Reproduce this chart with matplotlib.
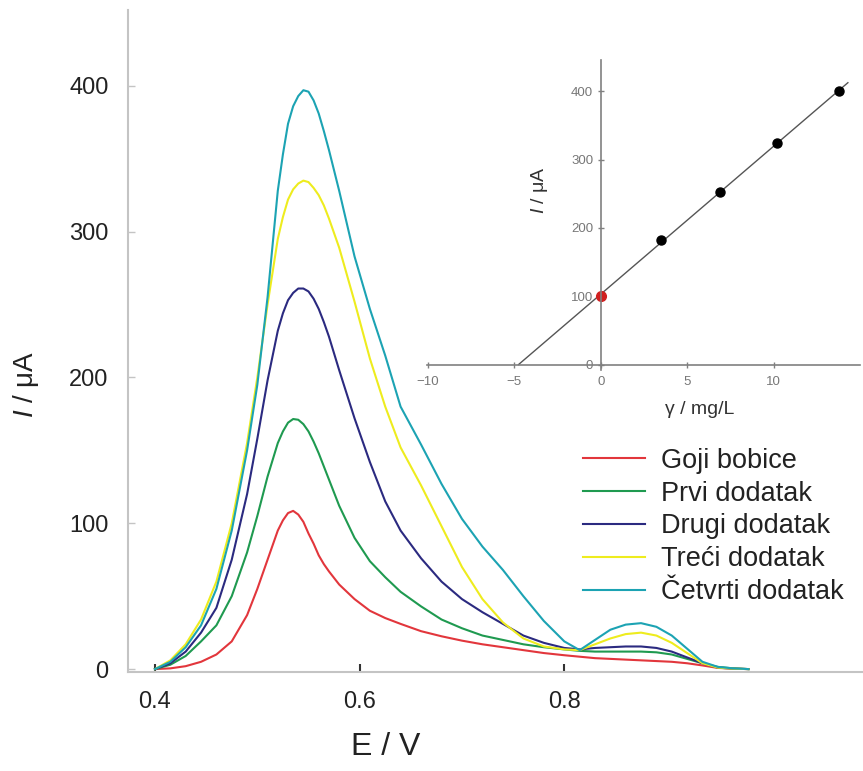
import numpy as np
import matplotlib
matplotlib.use('Agg')
import matplotlib.pyplot as plt

plt.rcParams['font.family'] = ['Liberation Sans', 'DejaVu Sans']
plt.rcParams['mathtext.fontset'] = 'custom'
plt.rcParams['mathtext.it'] = 'Liberation Sans:italic'
plt.rcParams['mathtext.rm'] = 'Liberation Sans'

# differential pulse voltammograms, E / V vs I / uA
E = [0.400, 0.415, 0.430, 0.445, 0.460, 0.475, 0.490, 0.500, 0.510, 0.520,
     0.525, 0.530, 0.535, 0.540, 0.545, 0.550, 0.555, 0.560, 0.565, 0.570,
     0.580, 0.595, 0.610, 0.625, 0.640, 0.660, 0.680, 0.700, 0.720, 0.740,
     0.760, 0.780, 0.800, 0.815, 0.830, 0.845, 0.860, 0.875, 0.890, 0.905,
     0.920, 0.935, 0.950, 0.965, 0.980]

goji = [0, 0.5, 2, 5, 10, 19, 37, 55, 75, 95,
        102, 107, 108.5, 106, 101, 93, 86, 78, 72, 67,
        58, 48, 40, 35, 31, 26, 22.5, 19.5, 17, 15,
        13, 11, 9.5, 8.5, 7.5, 7, 6.5, 6, 5.5, 5,
        4, 2.5, 0.8, 0.3, 0]
prvi = [0, 3, 9, 19, 30, 50, 80, 105, 132, 155,
        163, 169, 171.5, 171, 168, 163, 156, 148, 139, 130,
        112, 90, 74, 63, 53, 43, 34, 28, 23, 20,
        17, 15, 13.5, 12.5, 12, 12, 12, 12, 11.5, 10,
        7, 4, 1.5, 0.5, 0]
drugi = [0, 4, 12, 25, 42, 75, 120, 158, 198, 232,
         244, 253, 258, 261, 261, 259, 254, 247, 238, 228,
         205, 172, 142, 115, 95, 76, 60, 48, 39, 31,
         23, 18, 14.5, 13.5, 14.5, 15, 15.5, 15.5, 14.5, 12,
         8, 4, 1, 0.3, 0]
treci = [0, 6, 17, 34, 60, 100, 155, 200, 250, 295,
         310, 322, 329, 333, 335, 334, 330, 325, 318, 309,
         289, 252, 213, 180, 152, 126, 98, 70, 48, 32,
         21, 15.5, 13.5, 13, 17, 21, 24, 25, 23, 18,
         11, 4, 1, 0.3, 0]
cetvrti = [0, 5, 15, 30, 55, 95, 150, 195, 255, 328,
           353, 374, 386, 393, 397, 396, 390, 381, 369, 356,
           328, 283, 247, 215, 180, 154, 127, 103, 84, 68,
           50, 33, 19, 13, 20, 27, 30.5, 31.5, 29, 23,
           14, 5, 1.5, 0.5, 0]

labels = ['Goji bobice', 'Prvi dodatak', 'Drugi dodatak', 'Treći dodatak', 'Četvrti dodatak']
colors = ['#e2363c', '#1f9a50', '#2b2a80', '#eeec1e', '#1ca3b3']

# standard addition (inset)
gamma = [0, 3.5, 6.9, 10.2, 13.8]
I_add = [100, 182, 253, 325, 400]

fig = plt.figure(figsize=(8.63, 7.71), dpi=100)
ax = fig.add_axes([0.1483, 0.1284, 0.8517, 0.8586])

for y, lab, c in zip([goji, prvi, drugi, treci, cetvrti], labels, colors):
    ax.plot(E, y, color=c, lw=1.5, label=lab)

ax.set_xlim(0.3736, 1.0919)
ax.set_ylim(-2, 452)
ax.set_xticks([0.4, 0.6, 0.8])
ax.set_yticks([0, 100, 200, 300, 400])
for s in ['top', 'right']:
    ax.spines[s].set_visible(False)
for s in ['left', 'bottom']:
    ax.spines[s].set_color('#c4c4c4')
    ax.spines[s].set_linewidth(1.5)
ax.tick_params(axis='x', direction='in', length=6, width=1.5, color='#333333',
               labelsize=17, labelcolor='#222222', pad=14)
ax.tick_params(axis='y', direction='in', length=5, width=1, color='#c4c4c4',
               labelsize=17, labelcolor='#222222', pad=14)

ax.set_xlabel('E / V', fontsize=23, color='#222222')
ax.xaxis.set_label_coords(0.35, -0.09)
ax.set_ylabel(r'$\mathit{I}$ / μA', fontsize=20, color='#222222')
ax.yaxis.set_label_coords(-0.118, 0.434)

leg = ax.legend(loc='upper left', bbox_to_anchor=(0.6755, 0.419),
                bbox_transform=fig.transFigure, frameon=False,
                fontsize=19.5, handlelength=2.3, handletextpad=0.6,
                labelspacing=0.25, borderpad=0, borderaxespad=0)
for t in leg.get_texts():
    t.set_color('#222222')

# inset
ax_in = fig.add_axes([0.4948, 0.5201, 0.5017, 0.4021])
ax_in.patch.set_alpha(0)
coef = np.polyfit(gamma, I_add, 1)
x0 = -coef[1] / coef[0]
xf = np.array([x0, 14.3])
ax_in.plot(xf, np.polyval(coef, xf), color='#555555', lw=1)
ax_in.plot(gamma[1:], I_add[1:], 'o', color='black', ms=6.5)
ax_in.plot(gamma[:1], I_add[:1], 'o', color='#d02020', ms=7)

ax_in.set_xlim(-10.05, 15)
ax_in.set_ylim(-8, 446)
ax_in.set_xticks([-10, -5, 0, 5, 10])
ax_in.set_yticks([0, 100, 200, 300, 400])
ax_in.spines['left'].set_position(('data', 0))
ax_in.spines['bottom'].set_position(('data', 0))
for s in ['top', 'right']:
    ax_in.spines[s].set_visible(False)
for s in ['left', 'bottom']:
    ax_in.spines[s].set_color('#808080')
    ax_in.spines[s].set_linewidth(1.2)
ax_in.tick_params(axis='both', direction='inout', length=5, width=1, color='#808080',
                  labelsize=9.5, labelcolor='#777777')
ax_in.tick_params(axis='x', pad=6)
ax_in.tick_params(axis='y', pad=3)

ax_in.set_xlabel('γ / mg/L', fontsize=14, color='#333333')
ax_in.xaxis.set_label_coords(0.63, -0.1)
ax_in.set_ylabel(r'$\mathit{I}$ / μA', fontsize=14, color='#333333')
ax_in.yaxis.set_label_coords(0.285, 0.58)

plt.savefig('out.png', dpi=100)
